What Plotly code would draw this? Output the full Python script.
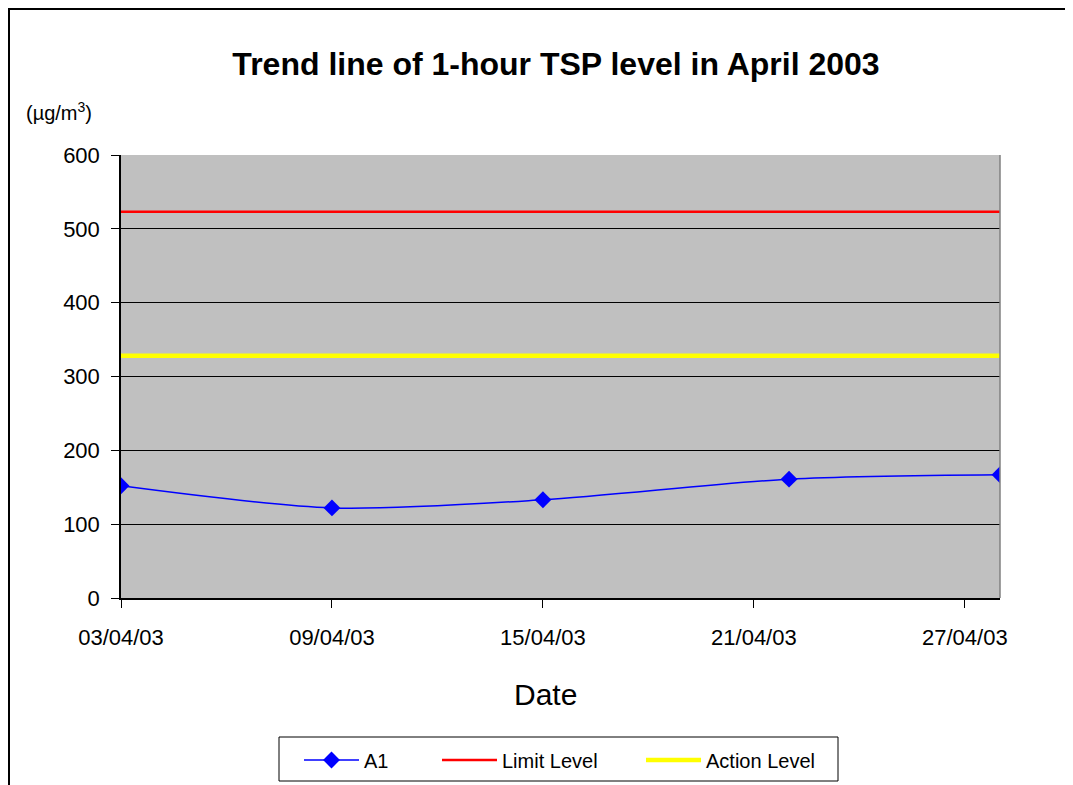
import plotly.graph_objects as go

# ---- data ----
dates = ["2003-04-03", "2003-04-09", "2003-04-15", "2003-04-22", "2003-04-28"]
a1_values = [152, 122, 133, 161, 167]
level_dates = ["2003-04-03", "2003-04-28"]
limit_level = [523, 523]
action_level = [328, 328]
tick_dates = ["2003-04-03", "2003-04-09", "2003-04-15", "2003-04-21", "2003-04-27"]
tick_labels = ["03/04/03", "09/04/03", "15/04/03", "21/04/03", "27/04/03"]
y_ticks = [0, 100, 200, 300, 400, 500, 600]

# page is offset by the 8px body margin; work in figure coordinates
OFF = 8
W, H = 1073 - OFF, 785 - OFF
L, R, T, B = 121 - OFF, 1000 - OFF, 155 - OFF, 598 - OFF  # plot area


def px(x):
    """page x pixel -> paper coordinate"""
    return (x - OFF - L) / (R - L)


def py(y):
    """page y pixel -> paper coordinate"""
    return (B - (y - OFF)) / (B - T)


FONT = "Liberation Sans, Arial, sans-serif"

fig = go.Figure()
fig.add_trace(go.Scatter(
    x=dates, y=a1_values, name="A1", mode="lines+markers",
    line=dict(color="#0000FF", width=1.5, shape="spline", smoothing=0.8),
    marker=dict(symbol="diamond", size=13, color="#0000FF"),
    legend="legend",
))
fig.add_trace(go.Scatter(
    x=level_dates, y=limit_level, name="Limit Level", mode="lines",
    line=dict(color="#FF0000", width=2.5), legend="legend2",
))
fig.add_trace(go.Scatter(
    x=level_dates, y=action_level, name="Action Level", mode="lines",
    line=dict(color="#FFFF00", width=4.5), legend="legend3",
))


def leg(xpage):
    return dict(orientation="h", x=px(xpage), xanchor="left", y=py(760), yanchor="middle",
                borderwidth=0, bgcolor="rgba(0,0,0,0)",
                font=dict(size=20, family=FONT), itemwidth=55)


fig.update_layout(
    width=W, height=H,
    margin=dict(l=L, r=W - R, t=T, b=H - B, autoexpand=False),
    paper_bgcolor="white", plot_bgcolor="#C0C0C0",
    font=dict(family=FONT, size=22, color="black"),
    title=dict(text="<b>Trend line of 1-hour TSP level in April 2003</b>",
               font=dict(size=32, family=FONT, color="black"),
               x=(556 - OFF) / W, xref="container", xanchor="center",
               y=1 - (64 - OFF) / H, yref="container", yanchor="middle"),
    showlegend=True,
    legend=leg(299),
    legend2=leg(437),
    legend3=leg(641),
)

fig.update_xaxes(
    type="date", range=["2003-04-03", "2003-04-28"],
    tickvals=tick_dates, ticktext=tick_labels,
    showgrid=False, zeroline=False, automargin=False,
    showline=True, linecolor="black", linewidth=1.5,
    ticks="outside", ticklen=8, tickcolor="black", tickwidth=1,
    tickfont=dict(size=22, family=FONT), ticklabelstandoff=11,
)
fig.update_yaxes(
    range=[0, 600], tickvals=y_ticks,
    showgrid=True, gridcolor="black", gridwidth=1, zeroline=False, automargin=False,
    showline=True, linecolor="black", linewidth=1.5,
    ticks="outside", ticklen=8, tickcolor="black", tickwidth=1,
    tickfont=dict(size=22, family=FONT), ticklabelstandoff=7,
)

# gray right border of the plot area
fig.add_shape(type="line", xref="paper", yref="paper", x0=1, x1=1, y0=0, y1=1,
              line=dict(color="#808080", width=1.5), layer="above")
# legend frame
fig.add_shape(type="rect", xref="paper", yref="paper",
              x0=px(279), y0=py(737), x1=px(838), y1=py(781),
              line=dict(color="black", width=1), fillcolor="white", layer="above")
# outer chart border
fig.add_shape(type="rect", xref="paper", yref="paper",
              x0=px(9), y0=py(9), x1=px(1100), y1=py(820),
              line=dict(color="black", width=2), fillcolor="rgba(0,0,0,0)", layer="above")

fig.add_annotation(text="(µg/m<sup>3</sup>)", xref="paper", yref="paper",
                   x=px(24), y=py(112), xanchor="left", yanchor="middle",
                   showarrow=False, font=dict(size=20, family=FONT))
fig.add_annotation(text="Date", xref="paper", yref="paper",
                   x=px(545), y=py(694), xanchor="center", yanchor="middle",
                   showarrow=False, font=dict(size=30, family=FONT))

fig.write_html("out.html")
